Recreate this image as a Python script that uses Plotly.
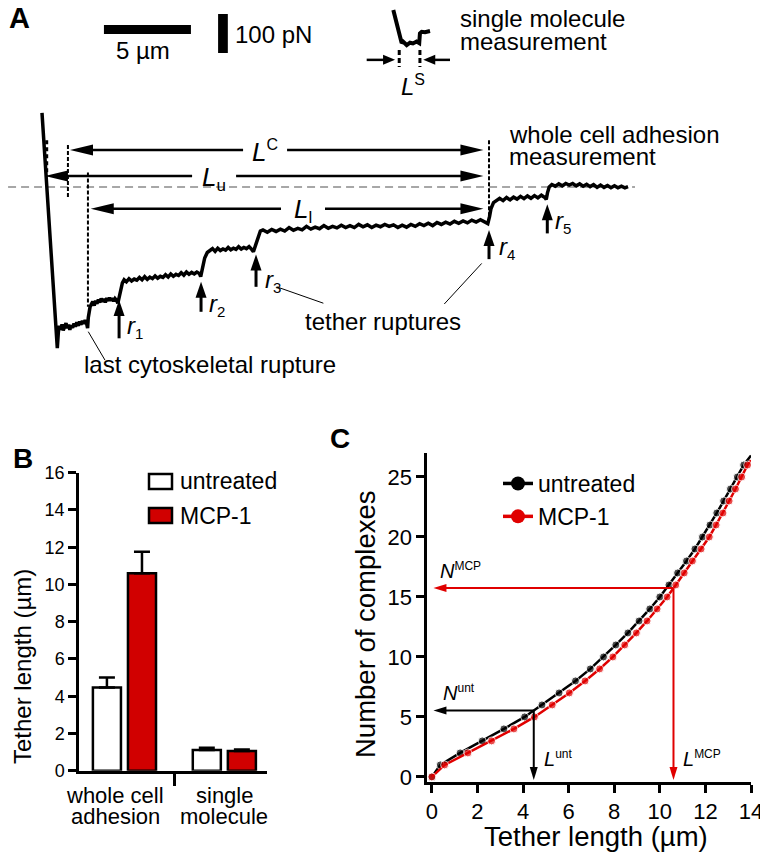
import math
import plotly.graph_objects as go

W, H = 768, 857          # browser window
OX, OY = 8, 8            # page body margin in front of the figure
FW, FH = W - OX, H - OY  # figure size so that it fills the window
FONT = "Liberation Sans, Arial, Helvetica, sans-serif"
RED = "#d10000"
RED_LINE = "#e00000"

# ---------------- Panel A data (force trace, µm / pN) ----------------
trace_dist_um = [
    0.00, 0.88,
    0.94, 1.00, 1.08, 1.15, 1.22, 1.30, 1.38, 1.45, 1.53, 1.60,
    1.68, 1.76, 1.84, 1.92, 2.00, 2.08, 2.16, 2.24, 2.32, 2.40,
    2.48, 2.56, 2.62,
    2.66, 2.70, 2.76, 2.84, 2.92, 3.00, 3.08, 3.16, 3.24, 3.32,
    3.40, 3.48, 3.56, 3.64, 3.72, 3.80, 3.88, 3.96, 4.04, 4.12,
    4.20, 4.28, 4.36,
    4.45, 4.52, 4.62, 4.72,
    4.85, 5.00, 5.15, 5.30, 5.45, 5.60, 5.75, 5.90, 6.05, 6.20,
    6.35, 6.50, 6.65, 6.80, 6.95, 7.10, 7.25, 7.40, 7.55, 7.70,
    7.85, 8.00, 8.15, 8.30, 8.45, 8.60, 8.75, 8.90, 9.05, 9.12,
    9.25, 9.35, 9.50, 9.66,
    9.80, 9.95, 10.10, 10.25, 10.40, 10.55, 10.70, 10.85, 11.00, 11.15,
    11.30, 11.45, 11.60, 11.75, 11.90, 12.05, 12.15,
    12.30, 12.42, 12.55, 12.70,
    12.95, 13.20, 13.45, 13.70, 13.95, 14.20, 14.45, 14.70, 14.95, 15.20,
    15.45, 15.70, 15.95, 16.20, 16.45, 16.70, 16.95, 17.20, 17.45, 17.70,
    17.95, 18.20, 18.45, 18.70, 18.95, 19.20, 19.45, 19.70, 19.95, 20.20,
    20.45, 20.70, 20.95, 21.20, 21.45, 21.70, 21.95, 22.20, 22.45, 22.70,
    22.95, 23.20, 23.45, 23.70, 23.95, 24.20, 24.45, 24.70, 24.95, 25.20,
    25.45, 25.62,
    25.72, 25.80, 25.95, 26.10,
    26.30, 26.50, 26.70, 26.90, 27.10, 27.30, 27.50, 27.70, 27.90, 28.10,
    28.30, 28.50, 28.70, 28.90, 28.98,
    29.05, 29.15, 29.30,
    29.50, 29.70, 29.90, 30.10, 30.30, 30.50, 30.70, 30.90, 31.10, 31.30,
    31.50, 31.70, 31.90, 32.10, 32.30, 32.50, 32.70, 32.90, 33.10, 33.30,
    33.50, 33.68,
]
trace_force_pN = [
    190, -413,
    -372, -356, -366, -352, -368, -357, -349, -362, -353, -366,
    -355, -361, -350, -358, -347, -356, -345, -353, -343, -351,
    -341, -349, -362,
    -335, -316, -308, -300, -294, -304, -292, -299, -289, -296,
    -286, -294, -287, -296, -285, -292, -284, -291, -285, -293,
    -286, -290, -298,
    -280, -262, -246, -238,
    -243, -235, -241, -236, -239, -232, -238, -230, -237, -231,
    -235, -228, -234, -229, -232, -225, -231, -223, -229, -224,
    -227, -220, -226, -218, -224, -219, -223, -218, -222, -230,
    -205, -182, -168, -163,
    -158, -165, -157, -163, -159, -162, -155, -161, -157, -160,
    -153, -159, -155, -158, -153, -160, -166,
    -146, -126, -113, -110,
    -116, -109, -114, -108, -113, -104, -111, -106, -110, -101,
    -108, -103, -107, -99, -106, -101, -105, -98, -104, -99,
    -104, -96, -102, -97, -104, -98, -102, -96, -101, -97,
    -104, -98, -103, -96, -101, -94, -99, -93, -99, -91,
    -96, -90, -95, -88, -93, -87, -92, -85, -90, -84,
    -89, -94,
    -76, -56, -40, -35,
    -29, -35, -27, -33, -26, -31, -24, -30, -23, -29,
    -22, -28, -21, -27, -32,
    -15, 0, 6,
    2, 8, 3, 9, 5, 9, 3, 8, 2, 7,
    1, 6, -1, 5, -1, 4, -2, 3, -2, 2,
    -2, 1,
]
inset_dist_um = [20.19, 20.53, 20.67, 20.75, 20.96, 21.15, 21.32, 21.53, 21.68, 21.72, 21.82, 22.01, 22.30]
inset_force_pN = [454, 390, 369, 373, 364, 370, 368, 373, 369, 394, 398, 397, 400]
scalebar_um = 5
scalebar_pN = 100
rupture_x_um = [4.43, 9.14, 12.30, 25.69, 29.04]
rupture_names = ["1", "2", "3", "4", "5"]

# ---------------- Panel B data ----------------
categories = ["whole cell adhesion", "single molecule"]
category_lines = [("whole cell", "adhesion"), ("single", "molecule")]
untreated_len = [4.47, 1.11]
untreated_err = [0.54, 0.12]
mcp_len = [10.6, 1.06]
mcp_err = [1.15, 0.08]

# ---------------- Panel C data ----------------
n_complexes = list(range(27)) + [26.8]
untreated_L = [0.0, 0.37, 1.24, 2.21, 3.16, 4.07, 4.83, 5.58, 6.30, 6.95, 7.53, 8.07,
               8.60, 9.09, 9.56, 10.00, 10.40, 10.78, 11.17, 11.54, 11.87, 12.20,
               12.50, 12.80, 13.10, 13.40, 13.68, 14.0]
n_complexes_mcp = list(range(27)) + [26.4]
mcp_L = [0.0, 0.56, 1.58, 2.62, 3.60, 4.50, 5.28, 6.03, 6.72, 7.36, 7.94, 8.46,
         8.97, 9.44, 9.88, 10.32, 10.70, 11.07, 11.43, 11.81, 12.17, 12.47,
         12.77, 13.04, 13.32, 13.59, 13.85, 14.0]
N_unt = 5.53
N_mcp = 15.74
L_unt = untreated_len[0]
L_mcp = mcp_len[0]


# ---------------- layout geometry (window pixels -> paper) ----------------
def PX(x):
    return (x - OX) / FW


def PY(y):
    return 1 - (y - OY) / FH


domA_x, domA_y = [PX(8), PX(768)], [PY(400), PY(8)]
rngA_x, rngA_y = [-1.954, 41.724], [-546.2, 459.0]
domB_x, domB_y = [PX(79), PX(267)], [PY(770.7), PY(472.7)]
rngB_x, rngB_y = [-0.455, 1.427], [0, 16]
domC_x, domC_y = [PX(427.3), PX(751)], [PY(781.7), PY(453)]
rngC_x, rngC_y = [-0.2, 14], [-0.4, 27]


def scale(dom, rng, total):
    return (dom[1] - dom[0]) * total / (rng[1] - rng[0])


sxA, syA = scale(domA_x, rngA_x, FW), scale(domA_y, rngA_y, FH)
sxC, syC = scale(domC_x, rngC_x, FW), scale(domC_y, rngC_y, FH)


def arrow_shapes(x0, y0, x1, y1, xr, yr, sx, sy, color, lw, hl, hw, both=False, gap=None):
    X0, Y0, X1, Y1 = x0 * sx, y0 * sy, x1 * sx, y1 * sy
    d = math.hypot(X1 - X0, Y1 - Y0)
    ux, uy = (X1 - X0) / d, (Y1 - Y0) / d

    def head(Xt, Yt, ux, uy):
        bx, by = Xt - ux * hl, Yt - uy * hl
        nx, ny = -uy, ux
        pts = [(Xt, Yt), (bx + nx * hw / 2, by + ny * hw / 2), (bx - nx * hw / 2, by - ny * hw / 2)]
        path = "M" + " L".join(f"{p[0] / sx:.5f},{p[1] / sy:.5f}" for p in pts) + " Z"
        return dict(type="path", path=path, xref=xr, yref=yr, fillcolor=color,
                    line=dict(width=0), layer="above")

    s0 = (X0 + ux * hl * 0.6, Y0 + uy * hl * 0.6) if both else (X0, Y0)
    s1 = (X1 - ux * hl * 0.6, Y1 - uy * hl * 0.6)
    segs = [(s0, s1)]
    if gap is not None:  # horizontal gap for a label: (x centre in data, half width px)
        gc, gh = gap[0] * sx, gap[1]
        lo, hi = sorted([s0[0], s1[0]])
        segs = [((lo, s0[1]), (gc - gh, s0[1])), ((gc + gh, s0[1]), (hi, s0[1]))]
    out = []
    for a, b in segs:
        out.append(dict(type="line", x0=a[0] / sx, y0=a[1] / sy, x1=b[0] / sx, y1=b[1] / sy,
                        xref=xr, yref=yr, line=dict(color=color, width=lw)))
    out.append(head(X1, Y1, ux, uy))
    if both:
        out.append(head(X0, Y0, -ux, -uy))
    return out


fig = go.Figure()

# ---- Panel A traces ----
fig.add_trace(go.Scatter(x=trace_dist_um, y=trace_force_pN, mode="lines",
                         line=dict(color="black", width=3.5), xaxis="x3", yaxis="y3",
                         showlegend=False, hoverinfo="skip"))
fig.add_trace(go.Scatter(x=inset_dist_um, y=inset_force_pN, mode="lines",
                         line=dict(color="black", width=4), xaxis="x3", yaxis="y3",
                         showlegend=False, hoverinfo="skip"))

# ---- Panel B bars ----
fig.add_trace(go.Bar(x=categories, y=untreated_len, name="untreated",
                     marker=dict(color="white", line=dict(color="black", width=2.5)),
                     error_y=dict(type="data", array=untreated_err, arrayminus=[0, 0],
                                  symmetric=False, color="black", thickness=2.5, width=8),
                     xaxis="x", yaxis="y", showlegend=False))
fig.add_trace(go.Bar(x=categories, y=mcp_len, name="MCP-1",
                     marker=dict(color=RED, line=dict(color="black", width=2.5)),
                     error_y=dict(type="data", array=mcp_err, arrayminus=[0, 0],
                                  symmetric=False, color="black", thickness=2.5, width=8),
                     xaxis="x", yaxis="y", showlegend=False))

# ---- Panel C curves ----
msize_u = [8] * 27 + [0]
msize_m = [8] * 27 + [0]
fig.add_trace(go.Scatter(x=untreated_L, y=n_complexes, mode="lines+markers",
                         line=dict(color="black", width=2.5),
                         marker=dict(color="black", size=msize_u),
                         xaxis="x2", yaxis="y2", showlegend=False))
fig.add_trace(go.Scatter(x=mcp_L, y=n_complexes_mcp, mode="lines+markers",
                         line=dict(color=RED_LINE, width=2.5),
                         marker=dict(color=RED_LINE, size=msize_m),
                         xaxis="x2", yaxis="y2", showlegend=False))
fig.add_trace(go.Scatter(x=[None], y=[None], mode="lines+markers", name="untreated",
                         line=dict(color="black", width=3.5), marker=dict(color="black", size=14),
                         xaxis="x2", yaxis="y2"))
fig.add_trace(go.Scatter(x=[None], y=[None], mode="lines+markers", name="MCP-1",
                         line=dict(color=RED_LINE, width=3.5), marker=dict(color=RED_LINE, size=14),
                         xaxis="x2", yaxis="y2"))

shapes = []
ann = []

# ---- Panel A decorations ----
shapes.append(dict(type="line", xref="x3", yref="y3", x0=-1.95, x1=34.08, y0=0, y1=0,
                   line=dict(color="#8a8a8a", width=1.5, dash="8px,5px"), layer="below"))
for (xv, ya, yb, w, dsh) in [(1.49, 108, -26, 2, "4px,2px"), (2.64, 37, -307, 2, "4px,2px"),
                             (25.69, 120, -93, 2, "4px,2px"), (0.27, 120, 26, 3, "4px,3px"),
                             (20.53, 351, 308, 3, "5px,3px"), (21.72, 351, 308, 3, "5px,3px")]:
    shapes.append(dict(type="line", xref="x3", yref="y3", x0=xv, x1=xv, y0=ya, y1=yb,
                       line=dict(color="black", width=w, dash=dsh)))
# scale bars
shapes.append(dict(type="rect", xref="x3", yref="y3", x0=3.56, x1=3.56 + scalebar_um,
                   y0=392.5, y1=415.5, fillcolor="black", line=dict(width=0)))
shapes.append(dict(type="rect", xref="x3", yref="y3", x0=10.12, x1=10.68,
                   y0=343.6, y1=343.6 + scalebar_pN, fillcolor="black", line=dict(width=0)))
# length arrows (with gaps for their labels)
shapes += arrow_shapes(1.61, 95, 25.37, 95, "x3", "y3", sxA, syA, "black", 2.5, 23, 11,
                       both=True, gap=(12.82, 22))
shapes += arrow_shapes(0.17, 28, 25.37, 28, "x3", "y3", sxA, syA, "black", 2.5, 23, 11,
                       both=True, gap=(9.89, 22))
shapes += arrow_shapes(2.80, -56, 25.37, -56, "x3", "y3", sxA, syA, "black", 2.5, 23, 11,
                       both=True, gap=(15.0, 22))
# rupture arrows
r_bottom = [-388, -320, -256, -185, -119]
r_top = [-290, -243, -173, -110, -44]
for xv, yb, yt in zip(rupture_x_um, r_bottom, r_top):
    shapes += arrow_shapes(xv, yb, xv, yt, "x3", "y3", sxA, syA, "black", 3, 16, 11)
# inset arrows
shapes += arrow_shapes(18.66, 326, 20.29, 326, "x3", "y3", sxA, syA, "black", 2.5, 12, 10)
shapes += arrow_shapes(23.45, 326, 21.91, 326, "x3", "y3", sxA, syA, "black", 2.5, 12, 10)
# leader lines
for (xa, ya, xb, yb) in [(13.49, -256, 16.17, -298), (25.27, -196, 23.12, -300),
                         (2.66, -371, 3.62, -444)]:
    shapes.append(dict(type="line", xref="x3", yref="y3", x0=xa, y0=ya, x1=xb, y1=yb,
                       line=dict(color="black", width=1)))


def txt(x, y, text, size, xref="x3", yref="y3", xanchor="center", yanchor="middle", **kw):
    d = dict(x=x, y=y, text=text, xref=xref, yref=yref, showarrow=False,
             xanchor=xanchor, yanchor=yanchor, font=dict(family=FONT, size=size, color="black"))
    d.update(kw)
    ann.append(d)


def small(s, size):
    return f"<span style='font-size:{size}px'>{s}</span>"


txt(12.82, 92, "<i>L</i><sup>" + small("C", 16) + "</sup>", 26)
txt(9.89, 23, "<i>L</i><sub>" + small("u", 17) + "</sub>", 26)
txt(15.0, -59, "<i>L</i><sub>" + small("l", 17) + "</sub>", 26)
r_lab_x = [4.77, 9.48, 12.70, 26.15, 29.37]
r_lab_y = [-360, -303, -241, -156, -90]
for xv, yv, nm in zip(r_lab_x, r_lab_y, rupture_names):
    txt(xv, yv, "<i>r</i><sub>" + small(nm, 15) + "</sub>", 24, xanchor="left")
txt(19.6, -346, "tether ruptures", 24)
txt(9.66, -456, "last cytoskeletal rupture", 24)
txt(26.72, 135, "whole cell adhesion", 24, xanchor="left")
txt(26.72, 77, "measurement", 24, xanchor="left")
txt(23.91, 431, "single molecule", 24, xanchor="left")
txt(23.91, 374, "measurement", 24, xanchor="left")
txt(21.32, 259, "<i>L</i><sup>" + small("S", 16) + "</sup>", 24)
txt(5.78, 350, "5 \u00b5m", 24)
txt(10.98, 390, "100 pN", 24, xanchor="left")

# panel letters
txt(PX(19.5), PY(18.5), "<b>A</b>", 29, xref="paper", yref="paper")
txt(PX(22.5), PY(458.5), "<b>B</b>", 28, xref="paper", yref="paper")
txt(PX(340), PY(438.5), "<b>C</b>", 28, xref="paper", yref="paper")

# ---- Panel B legend and labels ----
shapes.append(dict(type="rect", xref="paper", yref="paper", x0=PX(149), x1=PX(172),
                   y0=PY(489), y1=PY(474), fillcolor="white",
                   line=dict(color="black", width=2.5)))
shapes.append(dict(type="rect", xref="paper", yref="paper", x0=PX(149), x1=PX(172),
                   y0=PY(523), y1=PY(508), fillcolor=RED,
                   line=dict(color="black", width=2.5)))
txt(PX(178), PY(481), "untreated", 23, xref="paper", yref="paper", xanchor="left")
txt(PX(178), PY(516), "MCP-1", 23, xref="paper", yref="paper", xanchor="left")
for cat, lines, shift in zip(categories, category_lines, [-9, 0]):
    txt(cat, PY(795), lines[0], 22, xref="x", yref="paper", xshift=shift)
    txt(cat, PY(816), lines[1], 22, xref="x", yref="paper", xshift=shift)
txt(PX(22), PY(667), "Tether length (\u00b5m)", 24, xref="paper", yref="paper",
    textangle=-90)

# ---- Panel C arrows and labels ----
shapes += arrow_shapes(L_mcp, N_mcp, 0.07, N_mcp, "x2", "y2", sxC, syC, RED_LINE, 2, 13, 8)
shapes += arrow_shapes(L_mcp, N_mcp, L_mcp, -0.25, "x2", "y2", sxC, syC, RED_LINE, 2, 13, 8)
shapes += arrow_shapes(L_unt, N_unt, 0.07, N_unt, "x2", "y2", sxC, syC, "black", 2, 13, 8)
shapes += arrow_shapes(L_unt, N_unt, L_unt, -0.25, "x2", "y2", sxC, syC, "black", 2, 13, 8)
txt(0.28, 17.2, "<i>N</i><sup>" + small("MCP", 12) + "</sup>", 20, xref="x2", yref="y2", xanchor="left")
txt(0.38, 7.05, "<i>N</i><sup>" + small("unt", 12) + "</sup>", 20, xref="x2", yref="y2", xanchor="left")
txt(4.85, 1.5, "<i>L</i><sup>" + small("unt", 12) + "</sup>", 20, xref="x2", yref="y2", xanchor="left")
txt(10.95, 1.5, "<i>L</i><sup>" + small("MCP", 12) + "</sup>", 20, xref="x2", yref="y2", xanchor="left")
txt(PX(596), PY(836), "Tether length (\u00b5m)", 27.5, xref="paper", yref="paper")
txt(PX(365), PY(625), "Number of complexes", 27.5, xref="paper", yref="paper",
    textangle=-90)

axis_common = dict(showgrid=False, zeroline=False, showline=True, linecolor="black",
                   ticks="outside", tickcolor="black", automargin=False)

fig.update_layout(
    width=FW, height=FH, margin=dict(l=0, r=0, t=0, b=0, pad=0, autoexpand=False),
    paper_bgcolor="white", plot_bgcolor="white",
    font=dict(family=FONT, color="black"),
    barmode="group", bargap=0.298, bargroupgap=0.2,
    xaxis=dict(domain=domB_x, range=rngB_x, type="category", anchor="y",
               showticklabels=False, tickson="boundaries", ticklen=13, tickwidth=2.5,
               linewidth=2.5, **axis_common),
    yaxis=dict(domain=domB_y, range=rngB_y, anchor="x", tickvals=list(range(0, 17, 2)),
               ticklen=8, tickwidth=2.5, linewidth=2.5,
               tickfont=dict(family=FONT, size=18, color="black"), **axis_common),
    xaxis2=dict(domain=domC_x, range=rngC_x, anchor="y2", tickvals=list(range(0, 15, 2)),
                ticklen=8, tickwidth=3, linewidth=3,
                tickfont=dict(family=FONT, size=22, color="black"), **axis_common),
    yaxis2=dict(domain=domC_y, range=rngC_y, anchor="x2", tickvals=list(range(0, 26, 5)),
                ticklen=8, tickwidth=3, linewidth=3,
                tickfont=dict(family=FONT, size=22, color="black"), **axis_common),
    xaxis3=dict(domain=domA_x, range=rngA_x, anchor="y3", visible=False, automargin=False),
    yaxis3=dict(domain=domA_y, range=rngA_y, anchor="x3", visible=False, automargin=False),
    showlegend=True,
    legend=dict(x=PX(498), y=PY(462), xanchor="left", yanchor="top",
                font=dict(family=FONT, size=23, color="black"),
                bgcolor="rgba(0,0,0,0)", borderwidth=0),
    shapes=shapes, annotations=ann,
)

fig.write_html("out.html")
